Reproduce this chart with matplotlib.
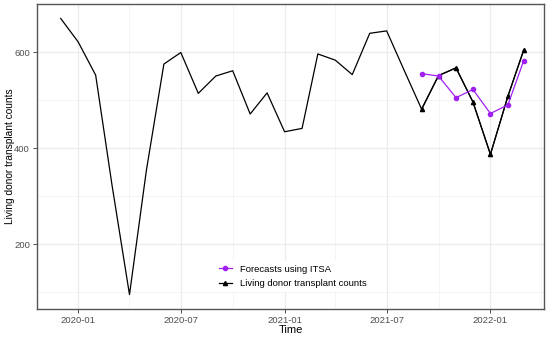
import matplotlib
matplotlib.use("Agg")
import matplotlib.pyplot as plt
import matplotlib.dates as mdates
import numpy as np
import pandas as pd

# monthly living donor transplant counts
months = pd.date_range("2019-12-01", "2022-03-01", freq="MS")
counts = [670, 621, 552, 323, 95, 354, 575, 599, 514, 550, 561, 471, 515,
          434, 441, 596, 583, 553, 639, 644, 562, 481, 551, 567, 496, 387,
          508, 604]

# test period: observed vs ITSA forecasts
test_months = pd.date_range("2021-09-01", "2022-03-01", freq="MS")
observed = [481, 551, 567, 496, 387, 508, 604]
forecast = [555, 550, 505, 522, 472, 490, 582]

plt.rcParams['font.family'] = ['Liberation Sans', 'DejaVu Sans']

fig = plt.figure(figsize=(5.5, 3.37), dpi=100)
ax = fig.add_axes([37/550, 28/337, 507/550, 305/337])

ax.plot(months, counts, color="black", lw=0.9, zorder=3)
ax.plot(test_months, observed, color="black", lw=0.9, marker="^", ms=3,
        zorder=3, label="Living donor transplant counts")
ax.plot(test_months, forecast, color="#A020F0", lw=0.9, marker="o", ms=3,
        zorder=4, label="Forecasts using ITSA")

ax.set_yticks([200, 400, 600])
ax.set_yticks([100, 300, 500, 700], minor=True)
ax.set_xticks(pd.to_datetime(["2020-01-01", "2020-07-01", "2021-01-01",
                              "2021-07-01", "2022-01-01"]))
ax.set_xticks(pd.to_datetime(["2020-04-01", "2020-10-01",
                              "2021-04-01", "2021-10-01", "2022-04-01"]), minor=True)
ax.xaxis.set_major_formatter(mdates.DateFormatter("%Y-%m"))

# limits after the ticks so they are not widened
ax.set_xlim(pd.Timestamp("2019-10-20"), pd.Timestamp("2022-04-06"))
ax.set_ylim(65, 700)

ax.grid(True, which="major", color="#EBEBEB", lw=0.9)
ax.grid(True, which="minor", color="#F2F2F2", lw=0.6)
ax.set_axisbelow(True)

ax.tick_params(which="major", length=3, width=0.7, color="#4D4D4D",
               labelsize=6.8, labelcolor="#4D4D4D", pad=2)
ax.tick_params(which="minor", length=0)
for s in ax.spines.values():
    s.set_color("#555555")
    s.set_linewidth(1.0)

ax.set_ylabel("Living donor transplant counts", fontsize=7.3)
ax.yaxis.set_label_coords(-0.043, 0.5)
ax.set_xlabel("Time", fontsize=8)
ax.xaxis.set_label_coords(0.5, -0.052)

h, l = ax.get_legend_handles_labels()
leg = ax.legend(h[::-1], l[::-1], loc="center left",
                bbox_to_anchor=(0.351, 0.107), borderaxespad=0,
                fontsize=6.8, handlelength=1.4, handletextpad=0.8,
                labelspacing=0.55, frameon=True, fancybox=False,
                facecolor="white", edgecolor="none", framealpha=1)

fig.savefig("out.png", dpi=100)
